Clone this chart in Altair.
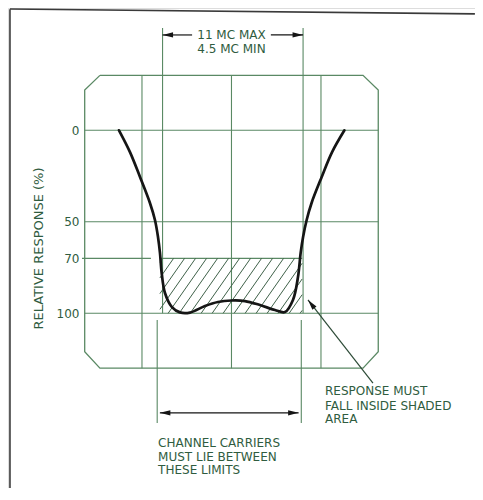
import math
import altair as alt
import pandas as pd

# ---------------- data (x: grid divisions from centre, y: relative response %) ----
curve_x = [-1.257, -1.134, -1.022, -0.911, -0.855, -0.821, -0.799, -0.780, -0.743,
           -0.665, -0.575, -0.464, -0.296, -0.151, 0.0, 0.151, 0.318, 0.486, 0.598,
           0.687, 0.743, 0.773, 0.800, 0.840, 0.895, 1.008, 1.124, 1.262]
curve_y = [0, 11.9, 25.5, 39.7, 49.0, 58.3, 67.0, 78.0, 88.9,
           96.6, 99.5, 99.6, 96.0, 93.8, 93.0, 93.3, 95.5, 98.2, 99.3,
           92.7, 80.2, 67.0, 58.3, 49.0, 39.7, 25.5, 11.9, 0]

y_ticks = [0, 50, 70, 100]
grid_x = [-1, 0, 1]
grid_y = [0, 50, 100]

screen_x = [-1.47, 1.47, 1.64, 1.64, 1.47, -1.47, -1.64, -1.64, -1.47]
screen_y = [-30, -30, -22, 121, 130, 130, 121, -22, -30]

band_top = 70           # shaded tolerance band (70 % .. 100 %)
band_bottom = 100
band_x = [-0.80, 0.79]
limit_top_x = [-0.77, 0.80]
limit_bottom_x = [-0.83, 0.78]

top_notes = ["11 MC MAX", "4.5 MC MIN"]
bottom_notes = ["CHANNEL CARRIERS", "MUST LIE BETWEEN", "THESE LIMITS"]
right_notes = ["RESPONSE MUST", "FALL INSIDE SHADED", "AREA"]

# ---------------- styling ----------------
GRID = "#5a8964"
HATCH = "#3f6149"
TEXT = "#2f5c40"
INK = "#151515"
FRAME = "#3a3a3a"
FONT = "DejaVu Sans"
ARROW = "M0,0L0.5,2L-0.5,2Z"

W, H = 467, 480
xs = alt.Scale(domain=[-2.497, 2.721], nice=False, zero=False)
ys = alt.Scale(domain=[-66.83, 195.46], nice=False, zero=False, reverse=True)
yaxis = alt.Axis(values=y_ticks, domain=False, ticks=False, tickSize=0, grid=False,
                 labelPadding=4, offset=-75, labelColor=TEXT, labelFont=FONT,
                 labelFontSize=12, title="RELATIVE RESPONSE (%)", titleAngle=270,
                 titleX=-45, titleY=240, titleAlign="center", titleBaseline="middle",
                 titleColor=TEXT, titleFont=FONT, titleFontSize=13,
                 titleFontWeight="normal")

X = lambda: alt.X("x:Q", scale=xs, axis=None)
Y = lambda: alt.Y("y:Q", scale=ys, axis=yaxis)


def segs(rows, color, width):
    df = pd.DataFrame(rows, columns=["x", "y", "x2", "y2"])
    return alt.Chart(df).mark_rule(color=color, strokeWidth=width).encode(
        x=X(), y=Y(), x2="x2:Q", y2="y2:Q")


# page frame
frame = segs([[-2.475, -66.1, -2.475, 195.4], [-2.475, -66.3, 2.72, -63.6]], FRAME, 1.6)

# screen outline
screen = alt.Chart(pd.DataFrame({"x": screen_x, "y": screen_y,
                                 "i": range(len(screen_x))})).mark_line(
    color=GRID, strokeWidth=1.3).encode(x=X(), y=Y(), order="i:Q")

# graticule
g_rows = [[gx, screen_y[0], gx, screen_y[4]] for gx in grid_x]
g_rows += [[screen_x[6], gy, screen_x[2], gy] for gy in grid_y]
g_rows += [[-1.67, band_top, -0.90, band_top]]
grid = segs(g_rows, GRID, 1.1)

# shaded band outline + limit lines
l_rows = [[band_x[0], band_top, band_x[1], band_top]]
l_rows += [[lx, -55.9, lx, band_bottom] for lx in limit_top_x]
l_rows += [[lx, 103.6, lx, 160] for lx in limit_bottom_x]
limits = segs(l_rows, GRID, 1.1)

# hatching of the band
k = 1.83 / (math.tan(math.radians(55)) * 89.5)
step = 11.0 / 89.5
h_rows = []
xb = band_x[0] - (band_bottom - band_top) * k + 0.03
while xb < band_x[1]:
    x0, y0 = xb, band_bottom
    x1, y1 = xb + (band_bottom - band_top) * k, band_top
    if x0 < band_x[0]:
        y0 = band_bottom - (band_x[0] - xb) / k
        x0 = band_x[0]
    if x1 > band_x[1]:
        y1 = band_bottom - (band_x[1] - xb) / k
        x1 = band_x[1]
    if x1 > x0:
        h_rows.append([x0, y0, x1, y1])
    xb += step
hatch = segs(h_rows, HATCH, 1.0)

# response curve
curve = alt.Chart(pd.DataFrame({"x": curve_x, "y": curve_y})).mark_line(
    color=INK, strokeWidth=2.7, interpolate="catmull-rom", strokeCap="round").encode(
    x=X(), y=Y())

# dimension arrows
a_rows = [[limit_top_x[0], -52.1, -0.44, -52.1], [0.44, -52.1, limit_top_x[1], -52.1],
          [band_x[0], 154.4, 0.75, 154.4]]
dim_lines = segs(a_rows, INK, 1.2)
leader = segs([[1.581, 138.1, 0.855, 92.7]], "#2c4a36", 1.2)

heads = alt.Chart(pd.DataFrame({
    "x": [limit_top_x[0], limit_top_x[1], band_x[0], 0.75, 0.855],
    "y": [-52.1, -52.1, 154.4, 154.4, 92.7],
    "a": [270, 90, 270, 90, 322],
})).mark_point(shape=ARROW, filled=True, size=110, color=INK, opacity=1,
               strokeWidth=0).encode(x=X(), y=Y(), angle=alt.Angle("a:Q", scale=None))

# notes
def notes(xv, yv, texts, align):
    return alt.Chart(pd.DataFrame({"x": xv, "y": yv, "t": texts})).mark_text(
        align=align, baseline="middle", font=FONT, fontSize=12, color=TEXT).encode(
        x=X(), y=Y(), text="t:N")


t_top = notes([0, 0], [-52.1, -44.4], top_notes, "center")
t_bot = notes([-0.82] * 3, [170.9, 178.3, 185.6], bottom_notes, "left")
t_right = notes([1.045] * 3, [142.5, 150.4, 157.5], right_notes, "left")

chart = alt.layer(frame, screen, grid, limits, hatch, curve, dim_lines, leader, heads,
                  t_top, t_bot, t_right).properties(
    width=W, height=H, padding=0, autosize="none").configure_view(
    stroke=None).configure(background="white")

chart.save("out.html", embed_options={"renderer": "svg", "actions": False})
